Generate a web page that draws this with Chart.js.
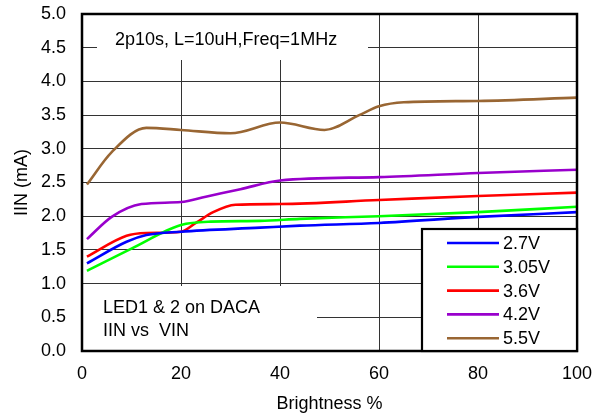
<!DOCTYPE html>
<html>
<head>
<meta charset="utf-8">
<script src="https://cdn.jsdelivr.net/npm/chart.js@4/dist/chart.umd.min.js"></script>
<style>
html,body{margin:0;padding:0;background:#fff;}
#wrap{position:relative;width:594px;height:413px;}
</style>
</head>
<body>
<div id="wrap"><canvas id="c" width="594" height="413"></canvas></div>
<script>
// ---- data ----
const seriesLabels = ['2.7V', '3.05V', '3.6V', '4.2V', '5.5V'];
const seriesColors = ['#0000FF', '#00FF00', '#FF0000', '#9900CC', '#996633'];

const x27  = [1, 9, 13, 20, 36, 44, 60, 80, 100];
const y27  = [1.30, 1.62, 1.72, 1.77, 1.83, 1.86, 1.90, 1.99, 2.06];

const x305 = [1, 10, 20, 26, 36, 44, 60, 80, 100];
const y305 = [1.19, 1.52, 1.87, 1.92, 1.93, 1.96, 2.00, 2.06, 2.14];

const x36  = [1, 9, 13, 20, 23, 26.5, 31, 40, 60, 80, 100];
const y36  = [1.40, 1.71, 1.75, 1.77, 1.90, 2.06, 2.17, 2.18, 2.24, 2.30, 2.35];

const x42  = [1, 6, 12, 20, 25, 32, 40, 60, 80, 100];
const y42  = [1.66, 1.99, 2.18, 2.21, 2.29, 2.40, 2.53, 2.58, 2.64, 2.69];

const x55  = [1, 6, 13, 20, 30, 40, 49, 56, 60, 65, 80, 100];
const y55  = [2.47, 2.95, 3.31, 3.28, 3.23, 3.39, 3.28, 3.50, 3.63, 3.69, 3.71, 3.76];

const xTicksMin = 0, xTicksMax = 100, xStep = 20;
const yTicksMin = 0, yTicksMax = 5, yStep = 0.5;

const noteTop = '2p10s, L=10uH,Freq=1MHz';
const noteBottom = ['LED1 & 2 on DACA', 'IIN vs  VIN'];
const xTitle = 'Brightness %';
const yTitle = 'IIN (mA)';

// ---- build ----
const FONT = "'Liberation Sans', Arial, sans-serif";
const xsAll = [x27, x305, x36, x42, x55];
const ysAll = [y27, y305, y36, y42, y55];

const datasets = seriesLabels.map((lab, i) => ({
  label: lab,
  data: xsAll[i].map((x, j) => ({x: x, y: ysAll[i][j]})),
  borderColor: seriesColors[i],
  backgroundColor: seriesColors[i],
  borderWidth: 2.6,
  pointRadius: 0,
  cubicInterpolationMode: 'monotone',
  fill: false
}));

const overlayPlugin = {
  id: 'overlay',
  beforeDatasetsDraw(chart) {
    const ctx = chart.ctx;
    const a = chart.chartArea;
    ctx.save();
    ctx.fillStyle = '#fff';
    ctx.fillRect(97, a.top + 1, 368 - 97, 60 - a.top - 1);
    ctx.fillRect(a.left + 1, 286, 317 - a.left - 1, a.bottom - 286);
    ctx.fillStyle = '#000';
    ctx.font = '18px ' + FONT;
    ctx.textBaseline = 'middle';
    ctx.textAlign = 'left';
    ctx.fillText(noteTop, 115, 40);
    ctx.fillText(noteBottom[0], 103, 308);
    ctx.fillText(noteBottom[1], 103, 331);
    ctx.restore();
  },
  afterDatasetsDraw(chart) {
    const ctx = chart.ctx;
    const a = chart.chartArea;
    ctx.save();
    ctx.strokeStyle = '#000';
    ctx.lineWidth = 2.5;
    ctx.strokeRect(a.left, a.top, a.right - a.left, a.bottom - a.top);
    const lx = 422, ly = 229, lw = a.right - 422, lh = a.bottom - 229;
    ctx.fillStyle = '#fff';
    ctx.fillRect(lx, ly, lw, lh);
    ctx.lineWidth = 2.2;
    ctx.strokeRect(lx, ly, lw, lh);
    ctx.font = '18px ' + FONT;
    ctx.textBaseline = 'middle';
    ctx.textAlign = 'left';
    chart.data.datasets.forEach((ds, i) => {
      const yy = 243 + i * 23.8;
      ctx.strokeStyle = ds.borderColor;
      ctx.lineWidth = 2.6;
      ctx.beginPath();
      ctx.moveTo(447, yy);
      ctx.lineTo(499, yy);
      ctx.stroke();
      ctx.fillStyle = '#000';
      ctx.fillText(ds.label, 503, yy + 1);
    });
    ctx.restore();
  }
};

new Chart(document.getElementById('c'), {
  type: 'line',
  data: { datasets: datasets },
  options: {
    responsive: false,
    animation: false,
    devicePixelRatio: 1,
    layout: { padding: { left: 0, top: 14, right: 17, bottom: 0 } },
    plugins: { legend: { display: false }, tooltip: { enabled: false } },
    scales: {
      x: {
        type: 'linear',
        min: xTicksMin, max: xTicksMax,
        afterFit(s) { s.height = 62; s.paddingLeft = 0; s.paddingRight = 0; },
        ticks: { stepSize: xStep, color: '#000', font: { family: FONT, size: 18 }, padding: 12, maxRotation: 0 },
        grid: { color: '#333', lineWidth: 1, drawTicks: false },
        border: { display: false },
        title: { display: true, text: xTitle, color: '#000', font: { family: FONT, size: 18, lineHeight: 1 }, padding: { top: 0, bottom: 0 } }
      },
      y: {
        type: 'linear',
        min: yTicksMin, max: yTicksMax,
        afterFit(s) { s.width = 82; s.paddingTop = 0; s.paddingBottom = 0; },
        ticks: { stepSize: yStep, color: '#000', font: { family: FONT, size: 18 }, padding: 16,
                 callback: v => Number(v).toFixed(1) },
        grid: { color: '#333', lineWidth: 1, drawTicks: false },
        border: { display: false },
        title: { display: true, text: yTitle, color: '#000', font: { family: FONT, size: 18, lineHeight: 1.2 }, padding: { top: 11, bottom: 0 } }
      }
    }
  },
  plugins: [overlayPlugin]
});
</script>
</body>
</html>
